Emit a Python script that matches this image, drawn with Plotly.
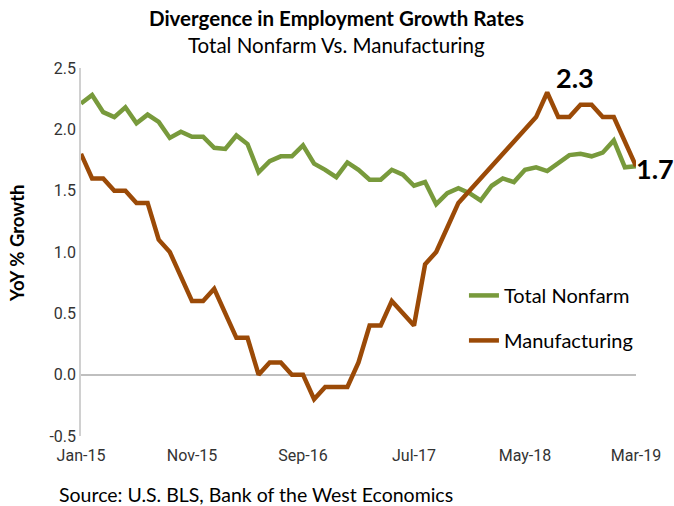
import plotly.graph_objects as go

months = ["Jan-15","Feb-15","Mar-15","Apr-15","May-15","Jun-15","Jul-15","Aug-15","Sep-15","Oct-15",
          "Nov-15","Dec-15","Jan-16","Feb-16","Mar-16","Apr-16","May-16","Jun-16","Jul-16","Aug-16",
          "Sep-16","Oct-16","Nov-16","Dec-16","Jan-17","Feb-17","Mar-17","Apr-17","May-17","Jun-17",
          "Jul-17","Aug-17","Sep-17","Oct-17","Nov-17","Dec-17","Jan-18","Feb-18","Mar-18","Apr-18",
          "May-18","Jun-18","Jul-18","Aug-18","Sep-18","Oct-18","Nov-18","Dec-18","Jan-19","Feb-19","Mar-19"]

total_nonfarm = [2.21, 2.28, 2.14, 2.10, 2.18, 2.05, 2.12, 2.06, 1.93, 1.98,
                 1.94, 1.94, 1.85, 1.84, 1.95, 1.88, 1.65, 1.74, 1.78, 1.78,
                 1.87, 1.72, 1.67, 1.61, 1.73, 1.67, 1.59, 1.59, 1.67, 1.63,
                 1.54, 1.57, 1.39, 1.48, 1.52, 1.48, 1.42, 1.54, 1.60, 1.57,
                 1.67, 1.69, 1.66, 1.73, 1.79, 1.80, 1.78, 1.81, 1.91, 1.69, 1.70]

manufacturing = [1.8, 1.6, 1.6, 1.5, 1.5, 1.4, 1.4, 1.1, 1.0, 0.8,
                 0.6, 0.6, 0.7, 0.5, 0.3, 0.3, 0.0, 0.1, 0.1, 0.0,
                 0.0, -0.2, -0.1, -0.1, -0.1, 0.1, 0.4, 0.4, 0.6, 0.5,
                 0.4, 0.9, 1.0, 1.2, 1.4, 1.5, 1.6, 1.7, 1.8, 1.9,
                 2.0, 2.1, 2.3, 2.1, 2.1, 2.2, 2.2, 2.1, 2.1, 1.9, 1.7]

tick_idx = [0, 10, 20, 30, 40, 50]
tick_labels = [months[i] for i in tick_idx]
y_ticks = [-0.5, 0.0, 0.5, 1.0, 1.5, 2.0, 2.5]

FONT = "Liberation Sans Narrow, Arial Narrow, Roboto, Liberation Sans, sans-serif"
TFONT = "Lato, Open Sans, sans-serif"
GREEN = "#789A3C"
ORANGE = "#9B4A07"

x = list(range(len(months)))
fig = go.Figure()
fig.add_trace(go.Scatter(x=x, y=total_nonfarm, mode="lines", name="Total Nonfarm",
                         line=dict(color=GREEN, width=4.5), legendgroup="a"))
fig.add_trace(go.Scatter(x=x, y=manufacturing, mode="lines", name="Manufacturing",
                         line=dict(color=ORANGE, width=4.5), legendgroup="b"))

peak_i = manufacturing.index(max(manufacturing))
fig.add_annotation(x=peak_i, y=manufacturing[peak_i], text="<b>2.3</b>", showarrow=False,
                   xanchor="center", yanchor="middle", yshift=15, xshift=28,
                   font=dict(family=TFONT, size=27, color="black"))
fig.add_annotation(x=len(months) - 1, y=manufacturing[-1], text="<b>1.7</b>", showarrow=False,
                   xanchor="left", yanchor="middle", xshift=-2, yshift=-2,
                   font=dict(family=TFONT, size=27, color="black"))

fig.add_annotation(xref="paper", yref="paper", x=0.461, y=1.0, yshift=50, yanchor="middle",
                   text="<b>Divergence in Employment Growth Rates</b>", showarrow=False,
                   font=dict(family=TFONT, size=20.5, color="black"))
fig.add_annotation(xref="paper", yref="paper", x=0.461, y=1.0, yshift=23, yanchor="middle",
                   text="Total Nonfarm Vs. Manufacturing", showarrow=False,
                   font=dict(family=TFONT, size=20.5, color="black"))
fig.add_annotation(xref="paper", yref="paper", x=0, y=0, xshift=-24, yshift=-58,
                   xanchor="left", yanchor="middle",
                   text="Source: U.S. BLS, Bank of the West Economics",
                   showarrow=False, font=dict(family=TFONT, size=19.5, color="black"))
fig.add_annotation(xref="paper", yref="paper", x=0, y=0.522, xshift=-64,
                   xanchor="center", yanchor="middle", textangle=-90,
                   text="<b>YoY % Growth</b>", showarrow=False,
                   font=dict(family=TFONT, size=18.5, color="black"))

fig.update_layout(
    width=674, height=506,
    margin=dict(l=81, r=38, t=68, b=70),
    paper_bgcolor="white", plot_bgcolor="white",
    font=dict(family=FONT, size=16, color="#333333"),
    showlegend=True,
    legend=dict(x=0.69, y=0.435, xanchor="left", yanchor="top",
                font=dict(family=TFONT, size=20, color="black"),
                tracegroupgap=16, bgcolor="rgba(0,0,0,0)"),
    xaxis=dict(range=[0, len(months) - 1], tickmode="array", tickvals=tick_idx,
               ticktext=tick_labels, showgrid=False, zeroline=False, showline=False,
               ticks="", ticklabelstandoff=8, fixedrange=True),
    yaxis=dict(range=[-0.5, 2.5], tickmode="array", tickvals=y_ticks,
               ticktext=[f"{v:.1f}" for v in y_ticks], showgrid=False,
               zeroline=True, zerolinecolor="#BFBFBF", zerolinewidth=1.5,
               showline=True, linecolor="#D0D0D0", linewidth=1.5, ticks=""),
)

fig.write_html("out.html")
